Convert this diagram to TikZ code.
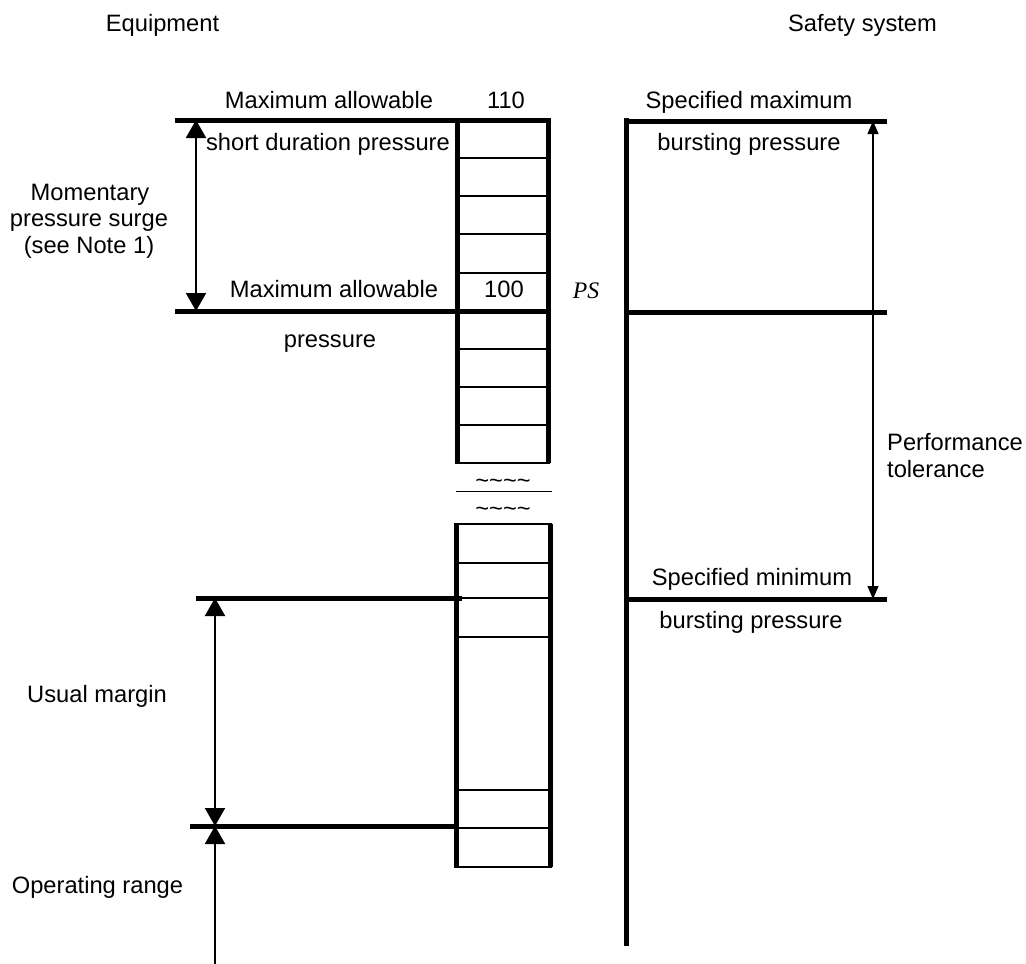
\documentclass[tikz,border=0pt]{standalone}
\usepackage{fontspec}
\setmainfont{Liberation Sans}
\newfontfamily\timesfont{Liberation Serif}
\usetikzlibrary{arrows.meta}
\begin{document}
\begin{tikzpicture}[x=1pt,y=-1pt,
  thk/.style={line width=5pt},
  thn/.style={line width=1.3pt},
  edge/.style={line width=2pt},
  lbl/.style={font=\fontsize{23.7}{28}\selectfont, inner sep=0pt, anchor=base},
  ps/.style={font=\fontsize{23.7}{28}\selectfont\timesfont\itshape, inner sep=0pt, anchor=base},
  bigdim/.style={line width=2pt, {Triangle[width=20pt,length=18pt]}-{Triangle[width=20pt,length=18pt]}},
  bigup/.style={line width=2pt, -{Triangle[width=20pt,length=18pt]}},
  smalldim/.style={line width=1.2pt, {Triangle[width=11pt,length=13pt]}-{Triangle[width=11pt,length=13pt]}}]
\useasboundingbox (0,0) rectangle (1026,964);

% ---------- coordinates ----------
\coordinate (tl) at (175,120);
\coordinate (tr) at (548,120);
\coordinate (ub) at (548,463);
\coordinate (ulb) at (457,463);
\coordinate (ult) at (457,120);
\coordinate (ml) at (175,311);
\coordinate (mr) at (550,311);

% ---------- upper column ----------
\draw[thk, line join=miter] (tl) -- (tr) -- (ub);
\draw[thk] (ult) -- (ulb);
\foreach \yy in {158,196,234,273,349,387,425}
  \draw[thn] (457,\yy) -- (548,\yy);
\draw[edge] (455,463) -- (550,463);
\draw[thk] (ml) -- (mr);

% ---------- break ----------
\node[lbl] (t1) at (503,488) {\textasciitilde\textasciitilde\textasciitilde\textasciitilde};
\draw[line width=1pt] (456,491) -- (552,491);
\node[lbl] (t2) at (503,516) {\textasciitilde\textasciitilde\textasciitilde\textasciitilde};

% ---------- lower column ----------
\draw[edge] (454,524) -- (552,524);
\draw[thk] (456,524) -- (456,867);
\draw[thk] (550,524) -- (550,867);
\foreach \yy in {563,598,637,790,828}
  \draw[thn] (456,\yy) -- (550,\yy);
\draw[edge] (454,867) -- (552,867);
\coordinate (um1) at (196,598);
\coordinate (um2) at (462,598);
\coordinate (op1) at (190,826);
\coordinate (op2) at (457,826);
\draw[thk] (um1) -- (um2);
\draw[thk] (op1) -- (op2);

% ---------- left dimension arrows ----------
\coordinate (a1t) at (196,120);
\coordinate (a1b) at (196,311);
\draw[bigdim] (a1t) -- (a1b);
\coordinate (a2t) at (215,598);
\coordinate (a2b) at (215,826);
\draw[bigdim] (a2t) -- (a2b);
\coordinate (a3s) at (215,964);
\draw[bigup] (a3s) -- (a2b);

% ---------- safety system ----------
\coordinate (sv1) at (626,118);
\coordinate (sv2) at (626,946);
\draw[thk] (sv1) -- (sv2);
\coordinate (s1l) at (624,121);
\coordinate (s1r) at (887,121);
\coordinate (s2l) at (626,312);
\coordinate (s2r) at (887,312);
\coordinate (s3l) at (626,599);
\coordinate (s3r) at (887,599);
\draw[thk] (s1l) -- (s1r);
\draw[thk] (s2l) -- (s2r);
\draw[thk] (s3l) -- (s3r);
\coordinate (pt1) at (873,121);
\coordinate (pt2) at (873,599);
\draw[smalldim] (pt1) -- (pt2);

% ---------- labels ----------
\node[lbl] (eq) at (162.5,31) {Equipment};
\node[lbl] (ss) at (862.5,31) {Safety system};
\node[lbl] (mas) at (329,108) {Maximum allowable};
\node[lbl] (n110) at (506,108) {110};
\node[lbl] (sdp) at (328,150) {short duration pressure};
\node[lbl] (mo1) at (90,200) {Momentary};
\node[lbl] (mo2) at (89,226.5) {pressure surge};
\node[lbl] (mo3) at (89,253) {(see Note 1)};
\node[lbl] (map) at (334,297) {Maximum allowable};
\node[lbl] (n100) at (504,297) {100};
\node[ps] (psn) at (586,298) {PS};
\node[lbl] (pr) at (330,347) {pressure};
\node[lbl] (smax) at (749,108) {Specified maximum};
\node[lbl] (bp1) at (749,150) {bursting pressure};
\node[lbl, anchor=base west] (perf) at (887,450) {Performance};
\node[lbl, anchor=base west] (tol) at (887,477) {tolerance};
\node[lbl] (smin) at (752,585) {Specified minimum};
\node[lbl] (bp2) at (751,628) {bursting pressure};
\node[lbl] (um) at (97,702) {Usual margin};
\node[lbl] (opr) at (97.5,893) {Operating range};
\end{tikzpicture}
\end{document}
